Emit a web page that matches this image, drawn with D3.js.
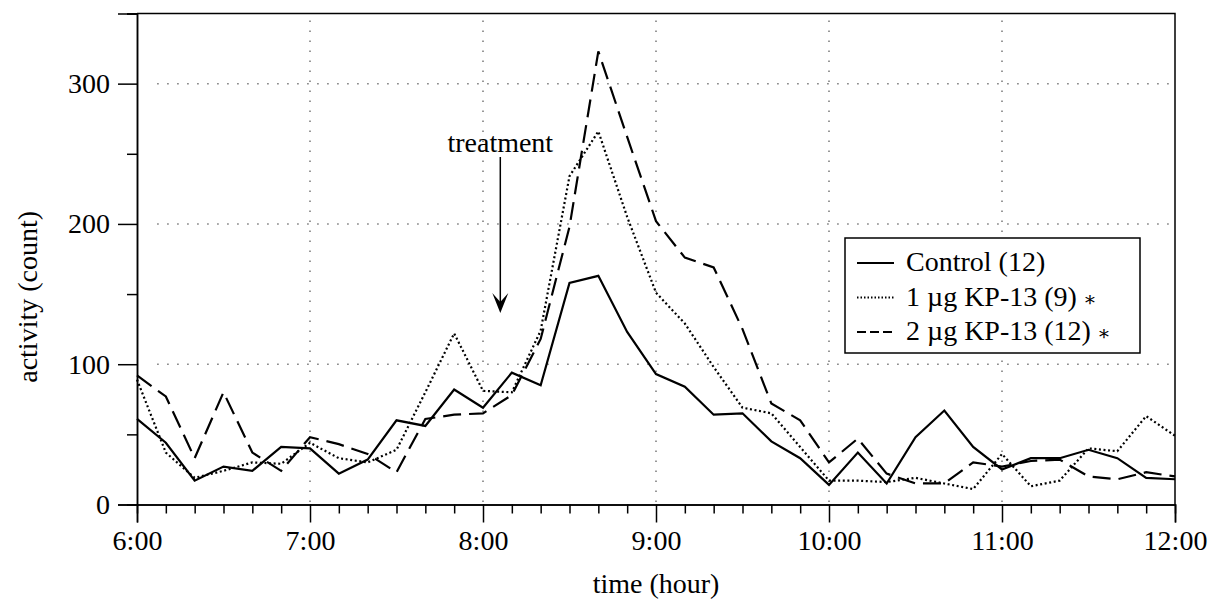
<!DOCTYPE html>
<html>
<head>
<meta charset="utf-8">
<script src="https://cdn.jsdelivr.net/npm/d3@7"></script>
<style>
  body { margin: 0; background: #fff; }
  svg { display: block; font-family: "Liberation Serif", "Times New Roman", serif; }
  .axis path, .axis line { stroke: #000; stroke-width: 1.5px; }
  .axis text { font-family: "Liberation Serif", serif; font-size: 28px; fill: #000; }
  .grid { stroke: #777; stroke-width: 1.5px; stroke-dasharray: 1.5,8.5; }
</style>
</head>
<body>
<svg id="viz" width="1211" height="599"></svg>
<script>
// sample times in minutes after midnight, every 10 minutes 6:00 - 12:00
var times = d3.range(360, 721, 10);
var hourTicks = [360, 420, 480, 540, 600, 660, 720];
var hourLabels = ["6:00", "7:00", "8:00", "9:00", "10:00", "11:00", "12:00"];
var yMajor = [0, 100, 200, 300];
var yMinor = [50, 150, 250, 350];

var control = [61,44,17,27,24,41,40,22,32,60,56,82,69,94,85,158,163,123,93,84,64,65,45,33,14,37,15,48,67,41,25,33,33,39,33,19,18];
var kp1 = [89,37,19,24,30,29,44,33,30,39,80,122,81,80,124,234,266,205,151,129,98,69,65,41,17,17,16,19,15,11,36,13,17,40,38,63,49];
var kp2 = [92,77,33,80,37,24,48,43,36,23,61,64,65,78,118,198,323,262,202,176,169,125,72,60,30,47,22,15,15,30,27,31,32,20,18,23,20];

var seriesNames = ["Control (12)", "1 \u00b5g KP-13 (9)", "2 \u00b5g KP-13 (12)"];
var seriesStars = ["", " \u2217", " \u2217"];
var treatmentTime = 486;

var svg = d3.select("#viz");
var xScale = d3.scaleLinear().domain([360, 720]).range([137, 1175]);
var yScale = d3.scaleLinear().domain([0, 350]).range([504.5, 13.5]);

// gridlines
svg.selectAll(".vgrid")
  .data(hourTicks.slice(1, -1))
  .enter().append("line")
  .attr("class", "grid")
  .attr("x1", d => xScale(d)).attr("x2", d => xScale(d))
  .attr("y1", yScale(345)).attr("y2", yScale(0));
svg.selectAll(".hgrid")
  .data(yMajor.slice(1))
  .enter().append("line")
  .attr("class", "grid")
  .attr("x1", xScale(367)).attr("x2", xScale(720))
  .attr("y1", d => yScale(d)).attr("y2", d => yScale(d));

// frame (top and right)
svg.append("path")
  .attr("d", "M" + xScale(360) + "," + yScale(350) + "H" + xScale(720) + "V" + yScale(0))
  .attr("fill", "none").attr("stroke", "#000").attr("stroke-width", 1.5);

// x axis
svg.append("g").attr("class", "axis")
  .attr("transform", "translate(0," + yScale(0) + ")")
  .call(d3.axisBottom(xScale).tickValues(times.filter(t => t % 60 !== 0)).tickSize(9).tickFormat(""));
svg.append("g").attr("class", "axis")
  .attr("transform", "translate(0," + yScale(0) + ")")
  .call(d3.axisBottom(xScale).tickValues(hourTicks).tickSize(18).tickPadding(8)
    .tickFormat((d, i) => hourLabels[i]));

// y axis
svg.append("g").attr("class", "axis")
  .attr("transform", "translate(" + xScale(360) + ",0)")
  .call(d3.axisLeft(yScale).tickValues(yMinor).tickSize(10).tickFormat(""));
svg.append("g").attr("class", "axis")
  .attr("transform", "translate(" + xScale(360) + ",0)")
  .call(d3.axisLeft(yScale).tickValues(yMajor).tickSize(19).tickPadding(8));

svg.selectAll(".axis .domain").attr("stroke-width", 1.5);

// axis titles
svg.append("text")
  .attr("x", xScale(540)).attr("y", 593)
  .attr("text-anchor", "middle").attr("font-size", 28)
  .text("time (hour)");
svg.append("text")
  .attr("transform", "translate(37," + yScale(148) + ") rotate(-90)")
  .attr("text-anchor", "middle").attr("font-size", 28)
  .text("activity (count)");

// series lines
var line = d3.line()
  .x((d, i) => xScale(times[i]))
  .y(d => yScale(d));
var styles = [
  {dash: null, width: 2.2},
  {dash: "2,2.6", width: 2.2},
  {dash: "18,8", width: 2.2}
];
[control, kp1, kp2].forEach(function(vals, k) {
  svg.append("path")
    .datum(vals)
    .attr("d", line)
    .attr("fill", "none")
    .attr("stroke", "#000")
    .attr("stroke-width", styles[k].width)
    .attr("stroke-linejoin", "miter")
    .attr("stroke-dasharray", styles[k].dash);
});

// treatment arrow
var tx = xScale(treatmentTime);
svg.append("text")
  .attr("x", tx).attr("y", 152)
  .attr("text-anchor", "middle").attr("font-size", 28)
  .text("treatment");
svg.append("line")
  .attr("x1", tx).attr("x2", tx).attr("y1", 157).attr("y2", 302)
  .attr("stroke", "#000").attr("stroke-width", 1.5);
svg.append("path")
  .attr("d", "M" + tx + ",313 L" + (tx - 8) + ",293 L" + tx + ",302 L" + (tx + 8) + ",293 Z")
  .attr("fill", "#000");

// legend
var lg = svg.append("g");
lg.append("rect")
  .attr("x", 845).attr("y", 238).attr("width", 295).attr("height", 115)
  .attr("fill", "#fff").attr("stroke", "#000").attr("stroke-width", 1.5);
seriesNames.forEach(function(name, k) {
  var yy = 263 + k * 34.5;
  lg.append("line")
    .attr("x1", 857).attr("x2", 894).attr("y1", yy).attr("y2", yy)
    .attr("stroke", "#000").attr("stroke-width", styles[k].width)
    .attr("stroke-dasharray", k === 1 ? "1.5,2" : (k === 2 ? "9,4" : null));
  var t = lg.append("text")
    .attr("x", 906).attr("y", yy + 8)
    .attr("font-size", 28);
  t.append("tspan").text(name);
  if (seriesStars[k]) {
    t.append("tspan").attr("font-family", "DejaVu Serif").attr("font-size", 20).text(seriesStars[k]);
  }
});
</script>
</body>
</html>
